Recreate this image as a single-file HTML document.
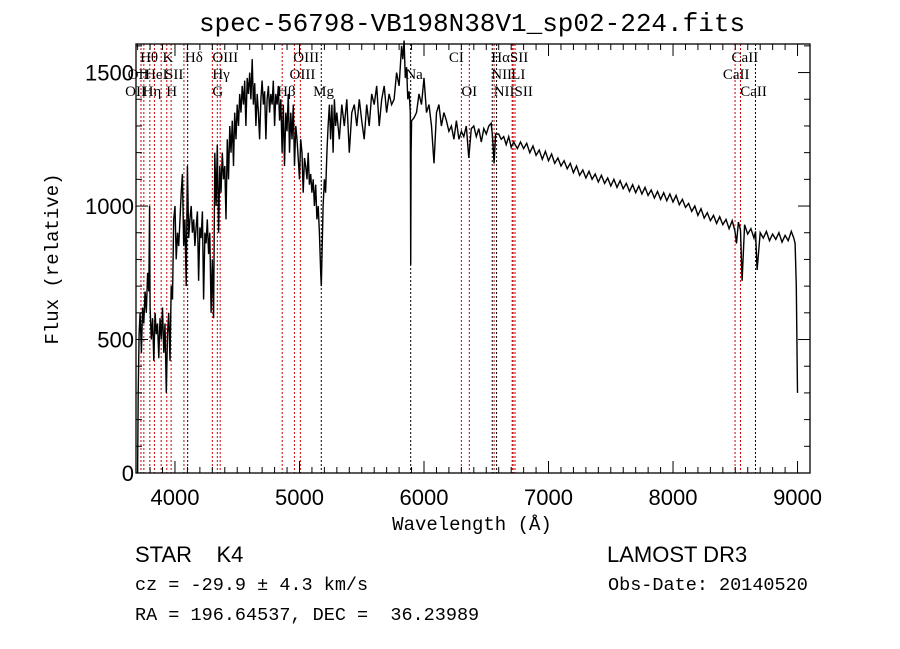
<!DOCTYPE html>
<html><head><meta charset="utf-8"><style>
body{margin:0;background:#fff;width:900px;height:649px;overflow:hidden}
svg{display:block}
.m{font-family:"Liberation Mono",monospace}
.s{font-family:"Liberation Sans",sans-serif}
.lab{font-family:"Liberation Serif",serif;font-size:15px}
</style></head><body>
<svg id="chart" width="900" height="649">
<text x="472" y="31" class="m" font-size="26" text-anchor="middle">spec-56798-VB198N38V1_sp02-224.fits</text>
<text transform="translate(58,259) rotate(-90)" class="m" font-size="19" text-anchor="middle">Flux (relative)</text>
<text x="472" y="530" class="m" font-size="19" text-anchor="middle">Wavelength (Å)</text>
<text x="135" y="562" class="s" font-size="22" xml:space="preserve">STAR    K4</text>
<text x="607" y="562" class="s" font-size="22">LAMOST DR3</text>
<text x="135" y="590" class="m" font-size="18.5">cz = -29.9 ± 4.3 km/s</text>
<text x="608" y="590" class="m" font-size="18.5">Obs-Date: 20140520</text>
<text x="135" y="620" class="m" font-size="18.5" xml:space="preserve">RA = 196.64537, DEC =  36.23989</text>
<g id="lines"></g>
<g id="labels"></g>
<g id="axes"></g>
<path id="spec" fill="none" stroke="#000" stroke-width="1.4"/>
<rect x="136" y="44" width="674" height="429" fill="none" stroke="#000" stroke-width="1.3"/>
</svg>
<script>
const xTicks=[4000,5000,6000,7000,8000,9000];
const yTicks=[0,500,1000,1500];
const lineWaves=[3727,3750,3798,3835,3889,3934,3969,4072,4102,4300,4340,4363,4861,4959,5007,5175,5893,6300,6364,6548,6563,6583,6708,6716,6731,8498,8542,8662];
const lineColors=["#c00","#c00","#c00","#c00","#c00","#c00","#c00","#c00","#000","#c00","#c00","#c00","#c00","#c00","#c00","#000","#000","#c00","#c00","#000","#c00","#000","#c00","#c00","#c00","#c00","#c00","#000"];
const labelText=["Hθ","K","Hδ","OIII","OIII","CI","HαSII","CaII","OII","HeI","SII","Hγ","OIII","Na","NII","LI","CaII","OII","Hη","H","G","Hβ","Mg","OI","NIISII","CaII"];
const labelWave=[3720,3900,4080,4300,4950,6200,6540,8470,3620,3760,3920,4300,4920,5850,6540,6700,8400,3600,3740,3930,4300,4820,5110,6300,6560,8540];
const labelRow=[0,0,0,0,0,0,0,0,1,1,1,1,1,1,1,1,1,2,2,2,2,2,2,2,2,2];
const wave=[3700,3705,3712,3720,3730,3740,3750,3760,3770,3780,3790,3796,3800,3810,3820,3830,3840,3850,3860,3870,3880,3890,3900,3910,3920,3930,3940,3950,3960,3970,3980,3990,4000,4010,4020,4030,4040,4050,4060,4070,4080,4090,4100,4110,4120,4130,4140,4150,4160,4170,4180,4190,4200,4210,4220,4230,4240,4250,4260,4270,4280,4290,4300,4310,4320,4330,4340,4350,4360,4370,4380,4390,4400,4410,4420,4430,4440,4450,4460,4470,4480,4490,4500,4510,4520,4530,4540,4550,4560,4570,4580,4590,4600,4610,4620,4630,4640,4650,4660,4670,4680,4690,4700,4710,4720,4730,4740,4750,4760,4770,4780,4790,4800,4810,4820,4830,4840,4850,4860,4870,4880,4890,4900,4910,4920,4930,4940,4950,4960,4970,4980,4990,5000,5010,5020,5030,5040,5050,5060,5070,5080,5090,5100,5110,5120,5130,5140,5150,5160,5170,5175,5180,5190,5200,5210,5220,5230,5240,5250,5260,5270,5280,5290,5300,5320,5340,5360,5380,5400,5420,5440,5460,5480,5500,5520,5540,5560,5580,5600,5620,5640,5660,5680,5700,5720,5740,5760,5780,5800,5820,5830,5840,5850,5860,5870,5880,5890,5893,5896,5900,5920,5940,5960,5980,6000,6020,6040,6060,6080,6100,6120,6140,6160,6180,6200,6220,6240,6260,6280,6300,6320,6340,6360,6380,6400,6420,6440,6460,6480,6500,6520,6540,6550,6563,6575,6600,6620,6640,6660,6680,6700,6720,6750,6775,6800,6825,6850,6875,6900,6925,6950,6975,7000,7025,7050,7075,7100,7125,7150,7175,7200,7225,7250,7275,7300,7325,7350,7375,7400,7425,7450,7475,7500,7525,7550,7575,7600,7625,7650,7675,7700,7725,7750,7775,7800,7825,7850,7875,7900,7925,7950,7975,8000,8025,8050,8075,8100,8125,8150,8175,8200,8225,8250,8275,8300,8325,8350,8375,8400,8425,8450,8475,8498,8510,8525,8542,8555,8575,8600,8625,8650,8662,8675,8700,8725,8750,8775,8800,8825,8850,8875,8900,8925,8950,8970,8980,8990,9000];
const flux=[0,300,520,600,450,620,560,680,600,750,680,1000,620,500,580,420,600,520,560,430,580,500,620,450,560,300,520,600,420,700,650,950,1000,800,900,850,950,1050,1120,850,950,700,1150,880,950,1000,900,950,850,920,980,720,920,880,980,650,900,860,950,820,900,600,800,580,1200,1000,1230,900,1150,1050,1200,1100,1150,950,1250,1100,1300,1200,1320,1150,1350,1250,1380,1300,1420,1350,1450,1380,1470,1300,1480,1420,1500,1400,1550,1380,1460,1300,1420,1350,1250,1400,1470,1380,1430,1250,1400,1450,1350,1420,1380,1470,1300,1420,1380,1450,1320,1400,1200,1380,1150,1350,1280,1420,1200,1350,1250,1380,1150,1300,1250,1180,1100,1250,1200,1050,1180,1150,1100,1200,1080,1120,1050,1100,1000,1080,950,1000,900,750,700,800,1000,1100,1050,1200,1300,1380,1250,1380,1200,1400,1300,1350,1250,1380,1300,1400,1200,1350,1380,1300,1400,1320,1250,1380,1300,1420,1380,1450,1300,1400,1450,1350,1420,1380,1400,1500,1450,1600,1550,1620,1480,1520,1400,1430,1350,780,1200,1320,1330,1350,1420,1380,1480,1350,1380,1300,1160,1350,1380,1300,1350,1320,1280,1300,1250,1320,1250,1280,1260,1300,1180,1290,1300,1260,1290,1240,1290,1270,1300,1310,1260,1160,1270,1270,1250,1260,1230,1260,1220,1240,1215,1240,1215,1235,1200,1225,1190,1210,1175,1205,1170,1195,1160,1180,1150,1170,1140,1160,1125,1150,1115,1135,1105,1130,1100,1120,1090,1115,1085,1105,1075,1100,1070,1095,1065,1085,1055,1080,1050,1075,1045,1070,1040,1060,1030,1055,1025,1050,1020,1045,1015,1040,1005,1025,995,1010,980,1000,965,990,955,975,945,965,935,960,930,950,915,945,905,860,940,910,720,930,895,915,880,905,760,900,880,905,870,895,875,900,865,890,870,905,880,860,700,300,150];
const X0=136,X1=810,Y0=473,Y1=44,W0=3687,W1=9100,F0=0,F1=1607;
const sx=w=>X0+(w-W0)/(W1-W0)*(X1-X0);
const sy=f=>Y0-(f-F0)/(F1-F0)*(Y0-Y1);
const NS="http://www.w3.org/2000/svg";
function mk(tag,attrs,parent,txt){const e=document.createElementNS(NS,tag);for(const k in attrs)e.setAttribute(k,attrs[k]);if(txt!==undefined)e.textContent=txt;parent.appendChild(e);return e;}
const gL=document.getElementById('lines');
lineWaves.forEach((w,i)=>{const e=mk('line',{x1:sx(w),x2:sx(w),y1:Y1,y2:Y0,stroke:lineColors[i],'stroke-width':1,'stroke-dasharray':'2,2'},gL);

});
const gT=document.getElementById('labels');
labelText.forEach((t,i)=>{const e=mk('text',{x:sx(labelWave[i]),y:62+labelRow[i]*17,class:'lab'},gT,t);

});
const gA=document.getElementById('axes');
for(let w=3700;w<=9100;w+=100){const maj=w%1000===0,len=maj?12:6;
mk('line',{x1:sx(w),x2:sx(w),y1:Y0,y2:Y0-len,stroke:'#000'},gA);
mk('line',{x1:sx(w),x2:sx(w),y1:Y1,y2:Y1+len,stroke:'#000'},gA);}
xTicks.forEach(w=>{const e=mk('text',{x:sx(w),y:505,class:'s','font-size':22,'text-anchor':'middle'},gA,w);

});
for(let f=0;f<=1600;f+=100){const maj=f%500===0,len=maj?12:6;
mk('line',{x1:X0,x2:X0+len,y1:sy(f),y2:sy(f),stroke:'#000'},gA);
mk('line',{x1:X1,x2:X1-len,y1:sy(f),y2:sy(f),stroke:'#000'},gA);}
yTicks.forEach(f=>{const e=mk('text',{x:134,y:sy(f)+8,class:'s','font-size':22,'text-anchor':'end'},gA,f);

});
document.getElementById('spec').setAttribute('d',wave.map((w,i)=>(i?'L':'M')+sx(w).toFixed(1)+','+sy(flux[i]).toFixed(1)).join(''));
</script>
</body></html>
